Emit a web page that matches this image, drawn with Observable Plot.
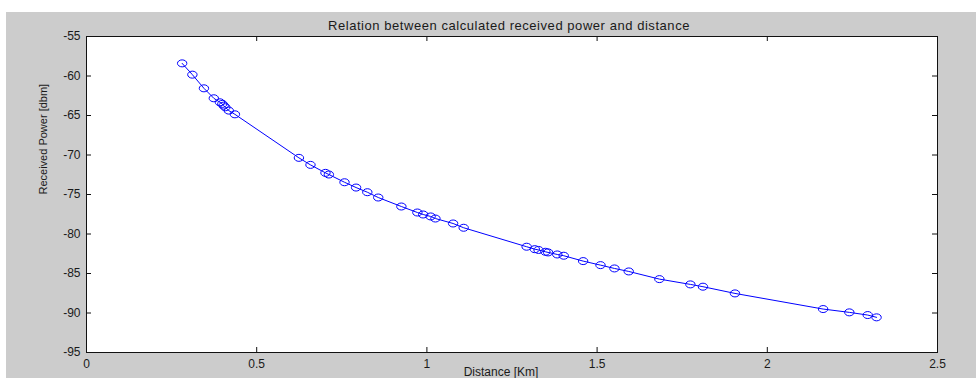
<!DOCTYPE html>
<html>
<head>
<meta charset="utf-8">
<script src="https://cdn.jsdelivr.net/npm/d3@7"></script>
<script src="https://cdn.jsdelivr.net/npm/@observablehq/plot@0.6"></script>
<style>
  html, body { margin: 0; padding: 0; background: #ffffff; }
  #chart svg { display: block; }
</style>
</head>
<body>
<div id="chart"></div>
<script>
const titleText = "Relation between calculated received power and distance";
const xLabel = "Distance [Km]";
const yLabel = "Received Power [dbm]";

const xTicks = [0, 0.5, 1, 1.5, 2, 2.5];
const yTicks = [-95, -90, -85, -80, -75, -70, -65, -60, -55];

const distance = [
  0.281, 0.311, 0.345, 0.374, 0.392, 0.399, 0.403, 0.408, 0.418, 0.436,
  0.624, 0.658, 0.702, 0.712, 0.758, 0.792, 0.825, 0.857, 0.925, 0.972,
  0.989, 1.011, 1.025, 1.077, 1.108, 1.293, 1.317, 1.328, 1.348, 1.356,
  1.383, 1.402, 1.459, 1.510, 1.551, 1.593, 1.683, 1.774, 1.811, 1.905,
  2.164, 2.241, 2.295, 2.321
];
const power = [
  -58.40, -59.83, -61.56, -62.82, -63.33, -63.53, -63.75, -63.96, -64.38, -64.85,
  -70.36, -71.25, -72.26, -72.47, -73.45, -74.12, -74.71, -75.38, -76.52, -77.28,
  -77.53, -77.78, -78.04, -78.67, -79.21, -81.61, -81.92, -82.02, -82.25, -82.33,
  -82.59, -82.75, -83.43, -83.94, -84.36, -84.74, -85.71, -86.38, -86.67, -87.52,
  -89.50, -89.92, -90.26, -90.55
];

const data = distance.map((d, i) => ({distance: d, power: power[i]}));

// elliptical open marker (as in the reference's stretched circles)
const ellipse = {
  draw(context, size) {
    const rx = 4.7, ry = 3.5, k = 0.5523;
    context.moveTo(rx, 0);
    context.bezierCurveTo(rx, ry * k, rx * k, ry, 0, ry);
    context.bezierCurveTo(-rx * k, ry, -rx, ry * k, -rx, 0);
    context.bezierCurveTo(-rx, -ry * k, -rx * k, -ry, 0, -ry);
    context.bezierCurveTo(rx * k, -ry, rx, -ry * k, rx, 0);
    context.closePath();
  }
};

const W = 976, H = 378;
const mL = 86, mR = 39, mT = 36, mB = 26;
const pw = W - mL - mR, ph = H - mT - mB;
const tl = 5;

const chart = Plot.plot({
  width: W,
  height: H,
  marginLeft: mL,
  marginRight: mR,
  marginTop: mT,
  marginBottom: mB,
  style: {
    background: "linear-gradient(#cccccc, #cccccc) 6px 12px / 970px 366px no-repeat, #ffffff",
    fontFamily: "'Liberation Sans', Arial, sans-serif",
    fontSize: "12px",
    color: "#1a1a1a",
    overflow: "hidden"
  },
  x: {domain: [0, 2.5]},
  y: {domain: [-95, -55]},
  marks: [
    Plot.frame({fill: "white", stroke: null}),
    Plot.line(data, {x: "distance", y: "power", stroke: "#0000ff", strokeWidth: 1}),
    Plot.dot(data, {x: "distance", y: "power", symbol: ellipse, stroke: "#0000ff", strokeWidth: 1, fill: "none"}),
    // inward ticks on all four sides
    Plot.tickX(xTicks, {x: d => d, insetTop: ph - tl, stroke: "#111"}),
    Plot.tickX(xTicks, {x: d => d, insetBottom: ph - tl, stroke: "#111"}),
    Plot.tickY(yTicks, {y: d => d, insetRight: pw - tl, stroke: "#111"}),
    Plot.tickY(yTicks, {y: d => d, insetLeft: pw - tl, stroke: "#111"}),
    Plot.frame({stroke: "#111", strokeWidth: 1}),
    Plot.axisX(xTicks, {tickSize: 0, tickPadding: 7, tickFormat: d => String(d), label: null}),
    Plot.axisY(yTicks, {tickSize: 0, tickPadding: 6, tickFormat: d => String(d), label: null}),
    Plot.text([titleText], {frameAnchor: "top", dy: -16, dx: -3, fontSize: 13, fill: "#1a1a1a", className: "ttl"}),
    Plot.text([xLabel], {frameAnchor: "bottom", dy: 23, dx: -11, fontSize: 12, fill: "#1a1a1a"}),
    Plot.text([yLabel], {frameAnchor: "left", dx: -43, rotate: -90, fontSize: 11, fill: "#1a1a1a"})
  ]
});

d3.select(chart).selectAll("g.ttl text").style("letter-spacing", "0.55px");

document.getElementById("chart").appendChild(chart);
</script>
</body>
</html>
